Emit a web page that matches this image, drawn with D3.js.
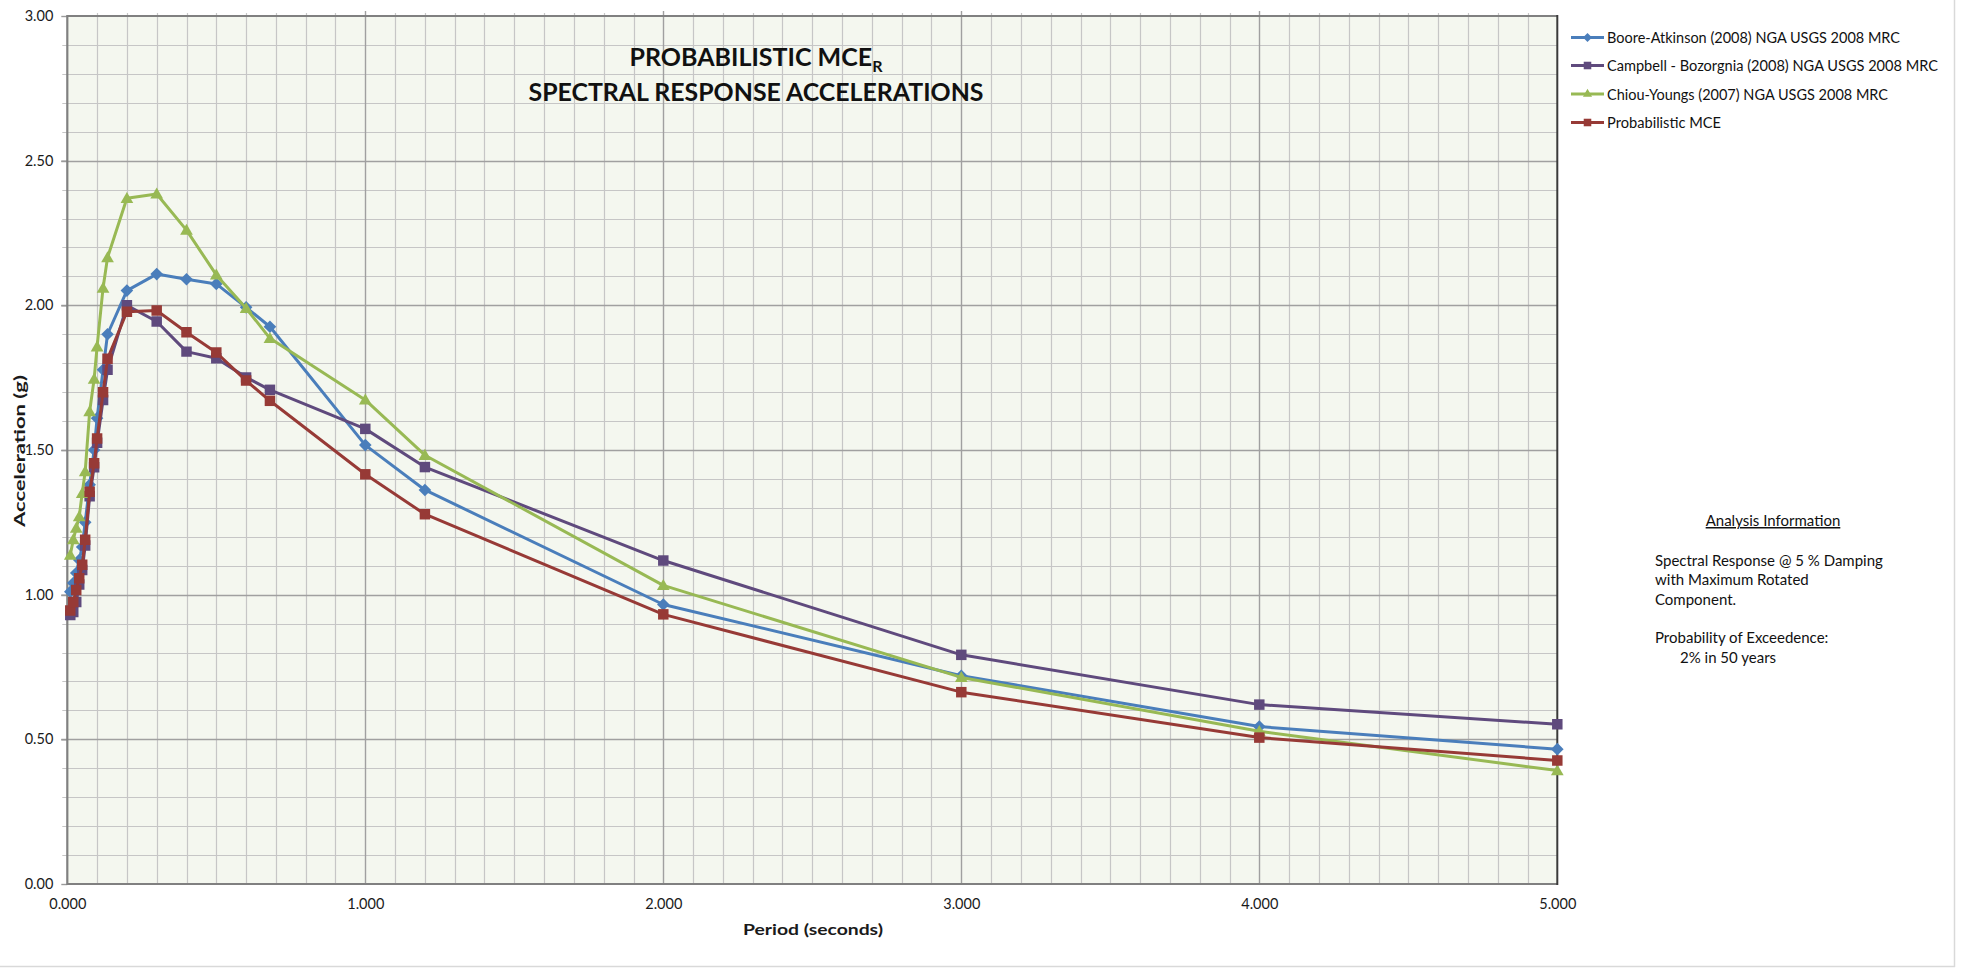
<!DOCTYPE html>
<html>
<head>
<meta charset="utf-8">
<script src="https://cdn.jsdelivr.net/npm/d3@7/dist/d3.min.js"></script>
<style>
  html, body { margin: 0; padding: 0; background: #ffffff; }
  svg { display: block; font-family: Lato, "Noto Sans", sans-serif; }
</style>
</head>
<body>
<svg id="chart" width="1963" height="968"></svg>
<script>
// Spectral periods (seconds) shared by every curve
const periods = [0.01, 0.02, 0.03, 0.04, 0.05, 0.06, 0.075, 0.09, 0.1, 0.12, 0.135,
                 0.2, 0.3, 0.4, 0.5, 0.6, 0.68, 1.0, 1.2, 2.0, 3.0, 4.0, 5.0];

// Spectral accelerations (g)
const booreAtkinson = [1.01, 1.04, 1.075, 1.12, 1.165, 1.25, 1.38, 1.5, 1.61, 1.777, 1.9,
                       2.051, 2.108, 2.09, 2.074, 1.993, 1.926, 1.517, 1.362, 0.966, 0.72, 0.544, 0.466];
const campbellBozorgnia = [0.93, 0.94, 0.975, 1.035, 1.085, 1.17, 1.34, 1.44, 1.525, 1.673, 1.777,
                           2.0, 1.944, 1.84, 1.817, 1.751, 1.708, 1.573, 1.441, 1.118, 0.792, 0.62, 0.552];
const chiouYoungs = [1.137, 1.19, 1.23, 1.27, 1.35, 1.425, 1.633, 1.745, 1.857, 2.06, 2.165,
                     2.37, 2.385, 2.26, 2.105, 1.99, 1.886, 1.673, 1.482, 1.032, 0.714, 0.528, 0.392];
const probabilisticMCE = [0.945, 0.975, 1.016, 1.057, 1.103, 1.19, 1.356, 1.454, 1.54, 1.70, 1.815,
                          1.978, 1.982, 1.907, 1.837, 1.74, 1.67, 1.416, 1.278, 0.932, 0.663, 0.506, 0.427];

const seriesNames = [
  "Boore-Atkinson (2008) NGA USGS 2008 MRC",
  "Campbell - Bozorgnia (2008) NGA USGS 2008 MRC",
  "Chiou-Youngs (2007) NGA USGS 2008 MRC",
  "Probabilistic MCE"
];
const seriesValues = [booreAtkinson, campbellBozorgnia, chiouYoungs, probabilisticMCE];

const xTicks = [0, 1, 2, 3, 4, 5];
const yTicks = [0, 0.5, 1.0, 1.5, 2.0, 2.5, 3.0];

const infoLines = [
  "Spectral Response @ 5 % Damping",
  "with Maximum Rotated",
  "Component.",
  "",
  "Probability of Exceedence:"
];
const infoIndented = "2% in 50 years";

// ---- styling ----
const colors = ["#4A7EBB", "#5F4A7D", "#98B954", "#973A36"];
const markers = ["diamond", "square", "triangle", "square"];
const legendWidths = [293, 331, 281, 114];

const svg = d3.select("#chart");
const plot = { left: 67.3, right: 1557.3, top: 16, bottom: 884 };

const x = d3.scaleLinear().domain([0, 5]).range([plot.left, plot.right]);
const y = d3.scaleLinear().domain([0, 3]).range([plot.bottom, plot.top]);

// outer chart border (right and bottom edges)
svg.append("line").attr("x1", 1954.5).attr("x2", 1954.5).attr("y1", 0).attr("y2", 967)
  .attr("stroke", "#D9D9D9").attr("stroke-width", 1.5);
svg.append("line").attr("x1", 0).attr("x2", 1955).attr("y1", 966.5).attr("y2", 966.5)
  .attr("stroke", "#D9D9D9").attr("stroke-width", 1.5);

// plot background
svg.append("rect")
  .attr("x", plot.left).attr("y", plot.top)
  .attr("width", plot.right - plot.left).attr("height", plot.bottom - plot.top)
  .attr("fill", "#F4F7EF");

// gridlines
const grid = svg.append("g");
const minorX = d3.range(1, 50).map(i => i / 10).filter(v => Math.abs(v - Math.round(v)) > 1e-9);
const minorY = d3.range(1, 30).map(i => i / 10).filter(v => Math.abs(v * 2 - Math.round(v * 2)) > 1e-9);

grid.selectAll(".vminor").data(minorX).join("line")
  .attr("x1", d => Math.round(x(d)) + 0.5).attr("x2", d => Math.round(x(d)) + 0.5)
  .attr("y1", plot.top - 3).attr("y2", plot.bottom)
  .attr("stroke", "#C6C6C6").attr("stroke-width", 1.2);
grid.selectAll(".hminor").data(minorY).join("line")
  .attr("x1", plot.left - 5).attr("x2", plot.right)
  .attr("y1", d => Math.round(y(d)) + 0.5).attr("y2", d => Math.round(y(d)) + 0.5)
  .attr("stroke", "#C6C6C6").attr("stroke-width", 1.2);
grid.selectAll(".vmajor").data(xTicks.slice(1, -1)).join("line")
  .attr("x1", d => Math.round(x(d)) + 0.5).attr("x2", d => Math.round(x(d)) + 0.5)
  .attr("y1", plot.top - 5).attr("y2", plot.bottom)
  .attr("stroke", "#A0A0A0").attr("stroke-width", 1.4);
grid.selectAll(".hmajor").data(yTicks.slice(1, -1)).join("line")
  .attr("x1", plot.left - 6).attr("x2", plot.right)
  .attr("y1", d => Math.round(y(d)) + 0.5).attr("y2", d => Math.round(y(d)) + 0.5)
  .attr("stroke", "#A0A0A0").attr("stroke-width", 1.4);

// axes
const yAxis = d3.axisLeft(y).tickValues(yTicks).tickFormat(d3.format(".2f")).tickSize(6).tickPadding(8);
const gy = svg.append("g").attr("transform", `translate(${plot.left},0)`).call(yAxis);
gy.select(".domain").remove();
gy.selectAll(".tick line").attr("stroke", "#9A9A9A").attr("stroke-width", 1.4);
gy.selectAll("text").attr("font-size", 14.5).attr("fill", "#1a1a1a")
  .attr("font-family", "Lato, 'Noto Sans', sans-serif");

const xAxis = d3.axisBottom(x).tickValues(xTicks).tickFormat(d3.format(".3f")).tickSize(0).tickPadding(15);
const gx = svg.append("g").attr("transform", `translate(0,${plot.bottom})`).call(xAxis);
gx.select(".domain").remove();
gx.selectAll("text").attr("font-size", 14.5).attr("fill", "#1a1a1a")
  .attr("font-family", "Lato, 'Noto Sans', sans-serif");

// plot frame
svg.append("line").attr("x1", plot.left).attr("x2", plot.left).attr("y1", plot.top - 1).attr("y2", plot.bottom + 1)
  .attr("stroke", "#808080").attr("stroke-width", 2.2);
svg.append("line").attr("x1", plot.left).attr("x2", plot.right).attr("y1", plot.bottom).attr("y2", plot.bottom)
  .attr("stroke", "#808080").attr("stroke-width", 2.2);
svg.append("line").attr("x1", plot.left).attr("x2", plot.right).attr("y1", plot.top).attr("y2", plot.top)
  .attr("stroke", "#808080").attr("stroke-width", 2.2);
svg.append("line").attr("x1", plot.right).attr("x2", plot.right).attr("y1", plot.top - 1).attr("y2", plot.bottom + 1)
  .attr("stroke", "#3a3a3a").attr("stroke-width", 2);

// axis titles
svg.append("text").attr("x", 813).attr("y", 935).attr("text-anchor", "middle")
  .attr("font-size", 15).attr("font-weight", "bold").attr("fill", "#1a1a1a")
  .attr("textLength", 140).attr("lengthAdjust", "spacingAndGlyphs")
  .text("Period (seconds)");
svg.append("text").attr("transform", `translate(25,451) rotate(-90)`)
  .attr("text-anchor", "middle")
  .attr("font-size", 15).attr("font-weight", "bold").attr("fill", "#1a1a1a")
  .attr("textLength", 152).attr("lengthAdjust", "spacingAndGlyphs")
  .text("Acceleration (g)");

// title
const title = svg.append("g").attr("font-weight", "bold").attr("fill", "#111");
const t1 = title.append("text").attr("x", 756).attr("y", 66).attr("text-anchor", "middle").attr("font-size", 25);
t1.append("tspan").text("PROBABILISTIC MCE");
t1.append("tspan").attr("font-size", 16).attr("dy", 6).text("R");
title.append("text").attr("x", 756).attr("y", 101).attr("text-anchor", "middle").attr("font-size", 25)
  .attr("textLength", 455).attr("lengthAdjust", "spacingAndGlyphs")
  .text("SPECTRAL RESPONSE ACCELERATIONS");

// marker shapes
function markerPath(kind, scale) {
  if (kind === "square") return d3.symbol(d3.symbolSquare, 110 * scale * scale)();
  if (kind === "triangle") return d3.symbol(d3.symbolTriangle, 70 * scale * scale)();
  const r = 6.3 * scale; // diamond: square rotated 45 degrees
  return `M0,${-r}L${r},0L0,${r}L${-r},0Z`;
}

svg.append("clipPath").attr("id", "plotclip").append("rect")
  .attr("x", plot.left - 10).attr("y", plot.top - 10)
  .attr("width", plot.right - plot.left + 20).attr("height", plot.bottom - plot.top + 20);

const line = d3.line().x(d => x(d[0])).y(d => y(d[1]));
const seriesG = svg.append("g").attr("clip-path", "url(#plotclip)");

seriesValues.forEach((vals, i) => {
  const pts = periods.map((p, j) => [p, vals[j]]);
  const g = seriesG.append("g");
  g.append("path").datum(pts).attr("d", line)
    .attr("fill", "none").attr("stroke", colors[i]).attr("stroke-width", 3)
    .attr("stroke-linejoin", "round");
  g.selectAll("path.mk").data(pts).join("path").attr("class", "mk")
    .attr("transform", d => `translate(${x(d[0])},${y(d[1]) + (markers[i] === "triangle" ? 1 : 0)})`)
    .attr("d", markerPath(markers[i], 1))
    .attr("fill", colors[i]);
});

// legend
const legend = svg.append("g").attr("transform", "translate(1571,0)");
const legendRows = [37.5, 65.5, 94, 122.5];
seriesNames.forEach((name, i) => {
  const row = legend.append("g").attr("transform", `translate(0,${legendRows[i]})`);
  row.append("line").attr("x1", 0).attr("x2", 33).attr("y1", 0).attr("y2", 0)
    .attr("stroke", colors[i]).attr("stroke-width", 3);
  row.append("path").attr("transform", "translate(16.5,0)")
    .attr("d", markerPath(markers[i], 0.72)).attr("fill", colors[i]);
  row.append("text").attr("x", 36).attr("y", 5.5).attr("font-size", 15.5).attr("fill", "#111")
    .attr("textLength", legendWidths[i]).attr("lengthAdjust", "spacingAndGlyphs")
    .text(name);
});

// analysis information block
const info = svg.append("g").attr("fill", "#111").attr("font-size", 15);
info.append("text").attr("x", 1773).attr("y", 526).attr("text-anchor", "middle")
  .attr("text-decoration", "underline").text("Analysis Information");
infoLines.forEach((t, i) => {
  if (t) info.append("text").attr("x", 1655).attr("y", 566 + i * 19.3).text(t);
});
info.append("text").attr("x", 1680).attr("y", 566 + 5 * 19.3).text(infoIndented);
</script>
</body>
</html>
